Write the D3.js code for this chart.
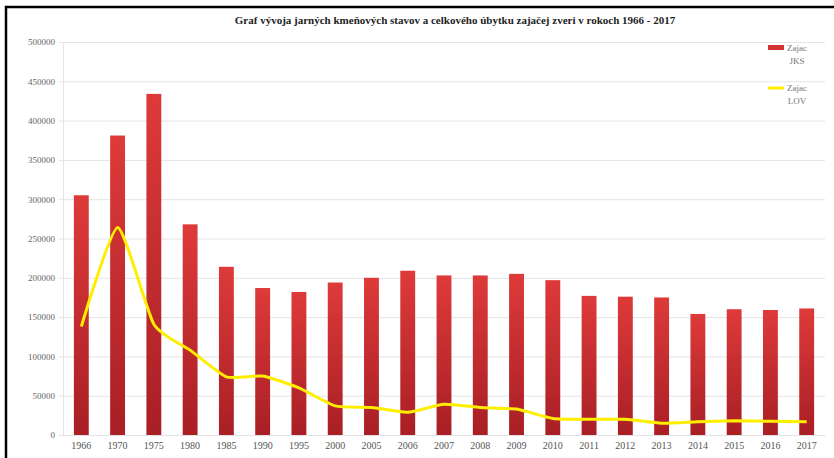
<!DOCTYPE html>
<html>
<head>
<meta charset="utf-8">
<script src="https://cdn.jsdelivr.net/npm/d3@7"></script>
<style>
  body { margin: 0; background: #fff; }
  svg { display: block; }
</style>
</head>
<body>
<svg></svg>
<script>
// roky (kategórie)
const years = ["1966", "1970", "1975", "1980", "1985", "1990", "1995", "2000", "2005", "2006",
    "2007", "2008", "2009", "2010", "2011", "2012", "2013", "2014", "2015", "2016", "2017"];

// Zajac JKS - jarný kmeňový stav
const jks = [305000, 381000, 434000, 268000, 214000, 187000, 182000, 194000, 200000, 209000,
    203000, 203000, 205000, 197000, 177000, 176000, 175000, 154000, 160000, 159000, 161000];

// Zajac LOV - úbytok
const lov = [138000, 264000, 141000, 108000, 74000, 75000, 60000, 37000, 35000, 29000,
    39000, 35000, 33000, 21000, 20000, 20000, 15000, 17000, 18000, 17500, 17000];

const yTicks = [0, 50000, 100000, 150000, 200000, 250000, 300000, 350000, 400000, 450000, 500000];

const width = 834, height = 458;
const margin = { top: 42, right: 9, bottom: 23, left: 63 };
const serif = "'Liberation Serif', 'DejaVu Serif', serif";

const svg = d3.select("svg")
    .attr("width", width)
    .attr("height", height);

// gradient pre stĺpce
const grad = svg.append("defs").append("linearGradient")
    .attr("id", "barGrad")
    .attr("x1", 0).attr("y1", 0).attr("x2", 0).attr("y2", 1);
grad.append("stop").attr("offset", "0%").attr("stop-color", "#de3a3a");
grad.append("stop").attr("offset", "100%").attr("stop-color", "#a81f25");

// rám
svg.append("path")
    .attr("d", `M6,${height} V7 H${width}`)
    .attr("fill", "none")
    .attr("stroke", "#000")
    .attr("stroke-width", 2.5);

const x = d3.scaleBand()
    .domain(years)
    .range([margin.left, width - margin.right])
    .paddingInner(0.59)
    .paddingOuter(0.3);

const y = d3.scaleLinear()
    .domain([0, 500000])
    .range([height - margin.bottom, margin.top]);

// mriežka
svg.append("g")
    .attr("class", "grid")
    .attr("transform", `translate(${margin.left},0)`)
    .call(d3.axisLeft(y)
        .tickValues(yTicks)
        .tickSize(-(width - margin.right - margin.left))
        .tickFormat(""))
    .call(g => g.select(".domain").remove())
    .selectAll(".tick line")
    .style("stroke", "#e4e4e4")
    .style("stroke-width", "1px");

// os Y
svg.append("g")
    .attr("transform", `translate(${margin.left},0)`)
    .call(d3.axisLeft(y).tickValues(yTicks).tickSize(4).tickPadding(4).tickFormat(d3.format("d")))
    .call(g => g.select(".domain").attr("stroke", "#e4e4e4"))
    .call(g => g.selectAll(".tick line").attr("stroke", "#e4e4e4"))
    .call(g => g.selectAll("text")
        .style("font-family", serif)
        .style("font-size", "9px")
        .style("fill", "#666"));

// stĺpce
svg.selectAll("rect.bar")
    .data(years.map((d, i) => ({ year: d, value: jks[i] })))
    .enter().append("rect")
    .attr("class", "bar")
    .attr("x", d => x(d.year))
    .attr("y", d => y(d.value))
    .attr("width", x.bandwidth())
    .attr("height", d => y(0) - y(d.value))
    .attr("fill", "url(#barGrad)");

// os X
svg.append("g")
    .attr("transform", `translate(0,${y(0)})`)
    .call(d3.axisBottom(x).tickSize(0).tickPadding(7))
    .call(g => g.select(".domain").attr("stroke", "#e4e4e4"))
    .call(g => g.selectAll("text")
        .style("font-family", serif)
        .style("font-size", "10px")
        .style("fill", "#555"));

// čiara LOV
const line = d3.line()
    .x((d, i) => x(years[i]) + x.bandwidth() / 2)
    .y(d => y(d))
    .curve(d3.curveCardinal.tension(0.45));

svg.append("path")
    .datum(lov)
    .attr("d", line)
    .attr("fill", "none")
    .attr("stroke", "#ffee00")
    .attr("stroke-width", 3);

// titulok
svg.append("text")
    .attr("x", 455)
    .attr("y", 24)
    .attr("text-anchor", "middle")
    .style("font-family", serif)
    .style("font-size", "11px")
    .style("font-weight", "bold")
    .style("fill", "#222")
    .text("Graf vývoja jarných kmeňových stavov a celkového úbytku zajačej zveri v rokoch 1966 - 2017");

// legenda
const legend = svg.append("g")
    .attr("transform", "translate(768, 0)");

const legendItems = [
    { label: ["Zajac", "JKS"], color: "#d23232", type: "rect", y: 48 },
    { label: ["Zajac", "LOV"], color: "#ffee00", type: "line", y: 88 }
];

legendItems.forEach(item => {
    if (item.type === "rect") {
        legend.append("rect")
            .attr("x", 0).attr("y", item.y - 3)
            .attr("width", 16).attr("height", 5)
            .attr("fill", item.color);
    } else {
        legend.append("line")
            .attr("x1", 0).attr("x2", 16)
            .attr("y1", item.y).attr("y2", item.y)
            .attr("stroke", item.color)
            .attr("stroke-width", 3);
    }
    legend.append("text")
        .attr("x", 29)
        .attr("y", item.y + 3)
        .attr("text-anchor", "middle")
        .style("font-family", serif)
        .style("font-size", "9px")
        .style("fill", "#777")
        .selectAll("tspan")
        .data(item.label)
        .enter().append("tspan")
        .attr("x", 29)
        .attr("dy", (d, i) => i === 0 ? 0 : 13)
        .text(d => d);
});
</script>
</body>
</html>
